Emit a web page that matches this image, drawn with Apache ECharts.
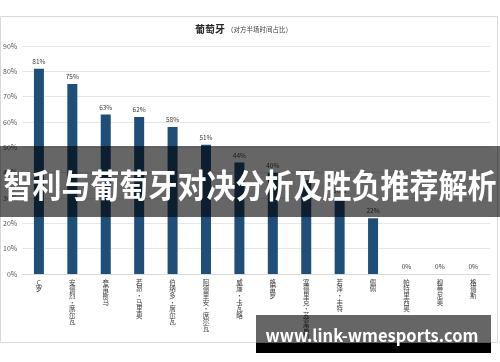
<!DOCTYPE html>
<html><head><meta charset="utf-8">
<script src="https://cdn.jsdelivr.net/npm/echarts@6/dist/echarts.min.js"></script>
<style>html,body{margin:0;padding:0;background:#fff}#c{width:500px;height:362px}</style>
</head><body><div id="c"></div>
<script>
const categories = ['C罗','安德烈·席尔瓦','夸雷斯马','若昂·马里奥','伯纳多·席尔瓦','阿德里安·席尔瓦','威廉·卡瓦略','格雷罗','塞德里克·苏亚雷斯','若泽·丰特','佩佩','帕特里西奥','穆蒂尼奥','格德斯'];
const values = [81,75,63,62,58,51,44,40,37,30,22,0,0,0];
const yTicks = [0,10,20,30,40,50,60,70,80,90];
const titleMain = '葡萄牙';
const titleSub = '（对方半场时间占比）';
const bannerText = '智利与葡萄牙对决分析及胜负推荐解析';
const watermark = 'www.link-wmesports.com';

const FONT = '"Noto Sans CJK SC", "Noto Sans", sans-serif';
const chart = echarts.init(document.getElementById('c'), null, {renderer:'canvas'});
chart.setOption({
  animation:false,
  backgroundColor:'#fff',
  grid:{left:22,right:10,top:46,bottom:88},
  xAxis:{type:'category',data:categories.map(s=>s.split('').join('\n')),
    axisLine:{lineStyle:{color:'#d9d9d9'}},axisTick:{show:false},
    axisLabel:{interval:0,rotate:0,hideOverlap:false,fontSize:6.5,lineHeight:6.6,color:'#404040',fontFamily:FONT,margin:5,verticalAlign:'top',align:'center'}},
  yAxis:{type:'value',min:yTicks[0],max:yTicks[yTicks.length-1],interval:10,
    axisLabel:{formatter:'{value}%',fontSize:7,color:'#595959',fontFamily:FONT,margin:5},
    splitLine:{lineStyle:{color:'#e6e6e6'}},axisLine:{show:false},axisTick:{show:false}},
  series:[{type:'bar',data:values,barWidth:10,itemStyle:{color:'#1f4e79'},
    label:{show:true,position:'top',formatter:'{c}%',fontSize:6.5,color:'#404040',fontFamily:FONT,distance:4}}],
  graphic:[
    {type:'rect',shape:{x:0.5,y:16.5,width:497,height:326},style:{fill:'none',stroke:'#d9d9d9',lineWidth:1},z:1},
    {type:'text',style:{x:195,y:29,text:titleMain,font:'bold 10px '+FONT,fill:'#262626',textVerticalAlign:'middle'},z:5},
    {type:'text',style:{x:227,y:30,text:titleSub,font:'6.5px '+FONT,fill:'#404040',textVerticalAlign:'middle'},z:5},
    {type:'rect',shape:{x:0,y:146,width:500,height:71},style:{fill:'rgba(0,0,0,0.6)'},z:100},
    {type:'text',x:250,y:186,scaleY:1.12,style:{x:0,y:0,text:bannerText,font:'bold 29px '+FONT,fill:'#fff',textAlign:'center',textVerticalAlign:'middle'},z:101},
    {type:'rect',shape:{x:256,y:315,width:235,height:28},style:{fill:'rgba(0,0,0,0.6)'},z:100},
    {type:'rect',shape:{x:256,y:343,width:235,height:10},style:{fill:'#000'},z:100},
    {type:'text',style:{x:372,y:336,text:watermark,font:'bold 16.5px '+FONT,fill:'#fff',textAlign:'center',textVerticalAlign:'middle'},z:101}
  ]
});
</script></body></html>
